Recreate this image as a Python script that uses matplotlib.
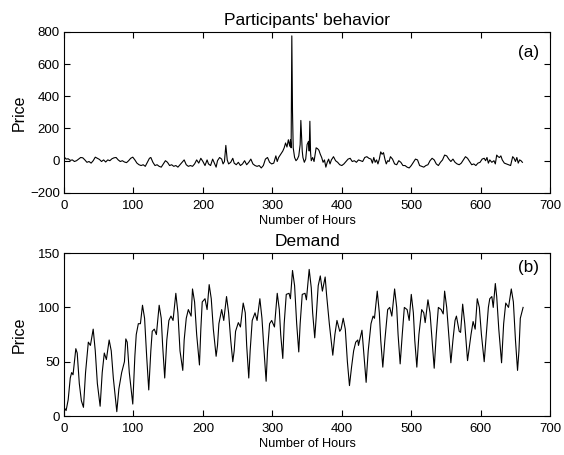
import numpy as np
import matplotlib
matplotlib.use('Agg')
import matplotlib.pyplot as plt

plt.rcParams['font.family'] = ['Liberation Sans', 'DejaVu Sans']

# participants' behavior (price), key points
price_hours = [0, 3, 6, 9, 12, 15, 18, 21, 24, 27, 30, 33, 36, 39, 42, 45, 48, 51, 54, 57,
               60, 63, 66, 69, 72, 75, 78, 81, 84, 87, 90, 93, 96, 99, 102, 105, 108, 111, 114, 117,
               120, 123, 125, 128, 131, 134, 137, 140, 143, 146, 149, 152, 155, 158, 161, 164, 167, 170, 173, 176,
               179, 182, 185, 188, 191, 194, 197, 200, 203, 206, 208, 211, 214, 216, 219, 221, 224, 227, 229, 231,
               233, 235, 237, 240, 243, 245, 248, 251, 254, 257, 260, 263, 266, 269, 272, 275, 278, 281, 284, 287,
               290, 293, 296, 299, 302, 305, 307, 309, 312, 315, 317, 319, 321, 323, 325, 326, 327, 328, 329, 330,
               332, 334, 336, 338, 340, 341, 342, 343, 344, 346, 348, 350, 352, 353, 354, 355, 356, 358, 360, 362,
               363, 365, 367, 369, 371, 373, 375, 377, 379, 381, 383, 385, 388, 391, 394, 397, 400, 403, 406, 409,
               412, 415, 418, 421, 424, 427, 430, 433, 436, 439, 442, 444, 446, 448, 450, 452, 454, 456, 458, 460,
               462, 464, 466, 468, 470, 473, 476, 479, 482, 485, 488, 491, 494, 497, 500, 503, 506, 509, 512, 515,
               518, 521, 524, 527, 530, 533, 536, 539, 542, 545, 548, 551, 554, 557, 560, 563, 566, 569, 572, 575,
               578, 581, 584, 587, 590, 593, 596, 599, 602, 605, 607, 609, 611, 613, 616, 619, 621, 623, 625, 627,
               629, 631, 634, 637, 640, 643, 646, 648, 650, 652, 654, 656, 658, 660]
price = [25, 10, 12, 2, 5, -5, 0, 10, 20, 18, 5, -10, -5, -15, 0, 22, 15, 8, -5, 5,
         -8, 5, 0, 12, 18, 20, 5, -5, 0, -8, -12, 0, 15, 22, 5, -15, -25, -30, -25, -35,
         -10, 15, 20, -10, -30, -25, -35, -40, -20, 0, -10, -30, -25, -35, -30, -40, -25, -10, 5, -25,
         -35, -30, -35, -20, 5, -15, 15, -5, -30, 5, -20, -30, 10, -10, -40, 0, 20, 10, -20, -5,
         95, 5, -20, -10, 15, -15, -25, -10, -30, -20, 0, -25, -10, 10, -20, -30, -35, -30, -45, -30,
         10, 20, -10, -20, -15, 30, -5, 20, 40, 60, 80, 110, 85, 130, 90, 130, 80, 775, 300, 80,
         20, 0, 10, 30, 100, 250, 150, 60, 20, -10, 10, 100, 120, 60, 245, 50, 0, 20, -5, 50,
         80, 75, 65, 40, 20, -10, 5, -40, -10, 10, -20, 5, 25, 0, -10, -25, -30, -20, -5, 10,
         15, -5, 0, -10, 5, 0, -5, 20, 25, 15, 10, -15, 20, -10, 5, -20, 10, 55, 40, 50,
         10, -20, 0, -5, 25, 10, -20, -25, 0, -10, -30, -30, -40, -45, -30, -10, 10, 5, -30, -35,
         -40, -30, -25, 0, 15, 5, -20, -30, -10, 5, 35, 30, 10, -5, 10, -10, -20, -25, -15, 5,
         25, 15, -5, -25, -20, -30, -15, -10, 10, 15, 0, 20, -15, 5, -10, 0, -20, 35, 25, 20,
         30, 5, -15, -20, -25, -30, 25, 15, -5, 20, -15, 5, 0, -10]

# demand, troughs / shoulders / peaks of each day
demand_hours = [0, 3, 6, 9, 11, 13, 17, 19, 22, 25, 28,
                31, 35, 38, 42, 45, 48, 52,
                55, 58, 61, 65, 68, 71, 76,
                79, 83, 87, 89, 91, 94, 99,
                102, 104, 107, 110, 113, 116, 119, 122,
                125, 127, 130, 133, 137, 140, 142, 145,
                148, 151, 154, 157, 161, 164, 167, 171,
                173, 176, 179, 183, 185, 188, 191, 195,
                197, 199, 203, 206, 209, 212, 215, 219,
                221, 223, 227, 230, 234, 237, 240, 243,
                245, 247, 251, 254, 258, 261, 263, 266,
                268, 271, 275, 278, 282, 285, 288, 291,
                293, 296, 299, 303, 307, 310, 312, 315,
                317, 320, 324, 326, 329, 332, 335, 338,
                340, 343, 347, 349, 353, 356, 358, 361,
                363, 366, 369, 372, 376, 378, 382, 387,
                390, 393, 397, 399, 402, 405, 408, 411,
                414, 417, 420, 423, 424, 429, 432, 435,
                438, 442, 445, 447, 451, 454, 456, 459,
                462, 466, 469, 472, 476, 479, 481, 484,
                487, 490, 494, 497, 500, 503, 505, 508,
                511, 515, 518, 520, 524, 527, 530, 533,
                536, 539, 543, 546, 548, 551, 554, 557,
                560, 563, 565, 569, 571, 574, 577, 581,
                584, 586, 589, 592, 595, 598, 601, 605,
                608, 611, 613, 616, 618, 621, 623, 626, 630,
                633, 636, 640, 644, 647, 650, 653,
                655, 657, 661]
demand = [8, 5, 15, 35, 40, 38, 62, 58, 30, 14, 8,
          40, 68, 65, 80, 60, 30, 9,
          40, 58, 52, 70, 60, 35, 4,
          25, 40, 50, 71, 68, 40, 11,
          55, 75, 85, 85, 102, 90, 55, 24,
          60, 78, 80, 75, 102, 90, 65, 35,
          70, 88, 92, 88, 113, 95, 60, 42,
          70, 90, 98, 92, 117, 105, 75, 47,
          80, 105, 108, 98, 121, 108, 80, 55,
          65, 85, 98, 88, 110, 95, 70, 50,
          60, 78, 86, 82, 104, 95, 65, 35,
          60, 88, 95, 88, 108, 90, 60, 32,
          60, 85, 88, 82, 113, 98, 75, 53,
          85, 112, 113, 108, 134, 120, 85, 59,
          85, 112, 113, 107, 135, 118, 95, 72,
          90, 120, 129, 115, 128, 112, 85, 56,
          75, 88, 78, 80, 90, 80, 50, 28,
          45, 60, 68, 70, 65, 79, 55, 31,
          60, 85, 92, 90, 115, 95, 70, 45,
          70, 98, 100, 92, 117, 100, 75, 48,
          75, 100, 98, 88, 112, 95, 70, 45,
          75, 98, 95, 86, 107, 95, 70, 44,
          75, 100, 98, 94, 115, 100, 75, 49,
          70, 88, 92, 78, 77, 103, 85, 51,
          65, 75, 87, 80, 108, 100, 75, 50,
          75, 100, 108, 110, 100, 122, 110, 80, 49,
          85, 104, 100, 117, 105, 70, 42,
          60, 90, 100]


def matlab_axes(ax):
    ax.set_xlim(0, 700)
    ax.set_xticks(np.arange(0, 701, 100))
    ax.tick_params(direction='in', top=True, right=True, length=4, width=0.8,
                   labelsize=9.5)
    ax.tick_params(axis='x', pad=5)
    ax.tick_params(axis='y', pad=3)
    for s in ax.spines.values():
        s.set_linewidth(0.8)
    ax.yaxis.set_label_coords(-0.077, 0.5)


fig = plt.figure(figsize=(5.64, 4.55), dpi=100)

ax1 = fig.add_axes([0.1135, 0.576, 0.862, 0.354])
ax1.plot(price_hours, price, color='black', linewidth=0.8)
ax1.set_ylim(-200, 800)
ax1.set_yticks(np.arange(-200, 801, 200))
matlab_axes(ax1)
ax1.set_title("Participants' behavior", fontsize=12.5, pad=5)
ax1.set_xlabel('Number of Hours', fontsize=9.2, labelpad=2.5)
ax1.set_ylabel('Price', fontsize=11.5)
ax1.text(0.955, 0.87, '(a)', transform=ax1.transAxes, fontsize=12.3,
         ha='center', va='center')

ax2 = fig.add_axes([0.1135, 0.0857, 0.862, 0.358])
ax2.plot(demand_hours, demand, color='black', linewidth=0.8)
ax2.set_ylim(0, 150)
ax2.set_yticks(np.arange(0, 151, 50))
matlab_axes(ax2)
ax2.set_title('Demand', fontsize=12.5, pad=5)
ax2.set_xlabel('Number of Hours', fontsize=9.2, labelpad=2.5)
ax2.set_ylabel('Price', fontsize=11.5)
ax2.text(0.955, 0.91, '(b)', transform=ax2.transAxes, fontsize=12.3,
         ha='center', va='center')

plt.savefig('out.png', dpi=100)
